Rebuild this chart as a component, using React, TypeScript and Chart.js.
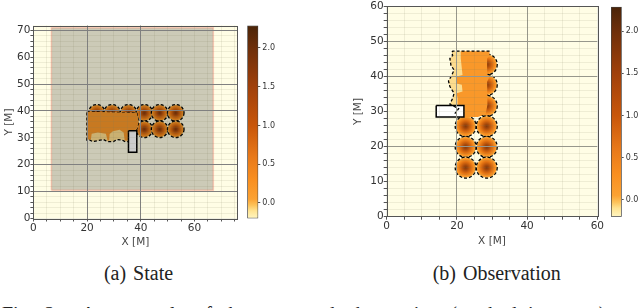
import React, { useEffect, useRef } from "react";
import { Chart, registerables } from "chart.js";

Chart.register(...registerables);

// ---------- data ----------
const stateCircleX = [23.6, 29.3, 35.4, 41.3, 47, 53, 41.3, 47, 53];
const stateCircleY = [39.3, 39.3, 39.3, 39.3, 39.3, 39.3, 33.2, 33.2, 33.2];
const stateTanX = [19.9, 38.5, 39.2, 38.5, 35.4, 34.2, 33, 31.1, 29.8, 27.6, 26.1, 24.2, 22.1, 20.9, 19.9, 19.9];
const stateTanY = [39.7, 39.3, 36, 33.2, 28.6, 28.6, 29.2, 29.4, 28.6, 28.6, 29.4, 29, 28.6, 29.2, 29.2, 39.7];
const stateOrangeX = [19.9, 38.5, 39.2, 38.5, 35.4, 35.4, 34, 33.6, 32.1, 29.6, 28.4, 28.2, 27.6, 27, 24, 21.7, 21.4, 19.9];
const stateOrangeY = [39.7, 39.3, 36, 33.2, 32.3, 29, 29, 32, 33, 32.5, 31.4, 29, 29, 31.5, 32, 31.5, 29.4, 29.5];
const stateVehicleX = [35.4, 38.5, 38.5, 35.4, 35.4];
const stateVehicleY = [32.6, 32.6, 24.6, 24.6, 32.6];
const stateWindowX = [6.7, 67, 67, 6.7, 6.7];
const stateWindowY = [10.5, 10.5, 71, 71, 10.5];
const stateMajorX = [20, 40];
const stateMajorY = [10, 20, 40, 50, 70];

const obsCircleX = [28.5, 28.5, 28.5, 22.5, 28.5, 22.5, 28.5, 22.5, 28.5];
const obsCircleY = [43.4, 37.6, 31.6, 25.8, 25.8, 19.9, 19.9, 14, 14];
const obsTanX = [18.8, 25, 25, 22.1, 18.8, 18, 18.8, 19.2, 18, 17.6, 18.3, 19.2, 18.3, 18, 18.8, 18.5];
const obsTanY = [47.2, 47.2, 28.4, 28.4, 31.7, 32.1, 33.8, 35.2, 37.1, 38.7, 39.9, 41.8, 43.2, 45.1, 46, 46.8];
const obsEdgeX = [29.3, 18.8, 18.5, 18.8, 18, 18.3, 19.2, 18.3, 17.6, 18, 19.2, 18.8, 18, 18.8, 20.5, 19.4];
const obsEdgeY = [47.2, 47.2, 46.8, 46, 45.1, 43.2, 41.8, 39.9, 38.7, 37.1, 35.2, 33.8, 32.1, 31.7, 30.8, 29.4];
const obsOrangeX = [21.1, 29.3, 29.3, 28.6, 28.6, 29.3, 28.6, 28.6, 28.8, 28.2, 26, 22.1, 22.1, 20.2, 20.2, 19.9, 21.6, 21.4, 19.9, 19.7, 21.6, 21.1];
const obsOrangeY = [47.2, 47.2, 45.8, 45.1, 40.4, 39.9, 38.5, 34.3, 31.9, 29.3, 28.4, 28.4, 31.5, 31.9, 33.8, 35.2, 35.7, 37.6, 38, 39.9, 40.4, 45.1];
const obsVehicleX = [14.1, 22, 22, 14.1, 14.1];
const obsVehicleY = [31.7, 31.7, 28.4, 28.4, 31.7];
const obsMajorX = [20, 40];
const obsMajorY = [20, 40, 50];

const colorbarValues = [-0.2, -0.1, -0.03, 0.05, 0.3, 0.6, 1.0, 1.5, 2.0, 2.29];
const colorbarColors = ["#fff6c2", "#ffe391", "#fdc35a", "#fba233", "#f98f20", "#e8791a", "#c8560a", "#a0400b", "#6e2f0b", "#4a2408"];
const circleStopOffsets = [0, 0.2, 0.5, 0.78, 0.9, 1];
const circleStopColors = ["#84390b", "#a2470c", "#d9690f", "#f98f20", "#fba233", "#fde3a0"];

const xAxisTitle = "X [M]";
const yAxisTitle = "Y [M]";
const captionA = "(a) State";
const captionB = "(b) Observation";
const footerText = "Fig. 2:  An example of the state and observation (marked in green) and";

// ---------- helpers ----------
const TICK_FONT = "'DejaVu Sans'";
const xy = (xs: number[], ys: number[]) => xs.map((x, i) => ({ x, y: ys[i] }));

const polygon = (xs: number[], ys: number[], fill: string | false, border = "transparent", width = 0, dash: number[] = []) => ({
  data: xy(xs, ys),
  showLine: true,
  pointRadius: 0,
  tension: 0,
  fill: fill ? "shape" : false,
  backgroundColor: fill || "transparent",
  borderColor: border,
  borderWidth: width,
  borderDash: dash,
});

const circles = (xs: number[], ys: number[], radius: number) => ({
  data: xy(xs, ys),
  showLine: false,
  dashedPoints: true,
  pointRadius: radius,
  pointBorderWidth: 1.3,
  pointBorderColor: "#000",
  pointBackgroundColor: (c: any) => {
    const { chart, raw } = c;
    if (!raw || !chart.scales.x) return "#fff";
    const px = chart.scales.x.getPixelForValue(raw.x);
    const py = chart.scales.y.getPixelForValue(raw.y);
    if (!Number.isFinite(px) || !Number.isFinite(py)) return "#fff";
    const g = chart.ctx.createRadialGradient(px, py, 0, px, py, radius);
    circleStopOffsets.forEach((o, i) => g.addColorStop(o, circleStopColors[i]));
    return g;
  },
});

const dashPlugin = {
  id: "dashPoints",
  beforeDatasetDraw(chart: any, args: any) {
    chart.ctx.save();
    if (chart.data.datasets[args.index].dashedPoints) chart.ctx.setLineDash([3, 2]);
  },
  afterDatasetDraw(chart: any) {
    chart.ctx.restore();
  },
};

const framePlugin = {
  id: "frame",
  afterDraw(chart: any) {
    const { left, top, width, height } = chart.chartArea;
    const { ctx } = chart;
    ctx.save();
    ctx.strokeStyle = "#555";
    ctx.lineWidth = 1;
    ctx.strokeRect(Math.round(left) + 0.5, Math.round(top) + 0.5, Math.round(width), Math.round(height));
    ctx.restore();
  },
};

const bgPlugin = {
  id: "plotBg",
  beforeDatasetsDraw(chart: any) {
    const { left, top, width, height } = chart.chartArea;
    chart.ctx.save();
    chart.ctx.fillStyle = "#fffde5";
    chart.ctx.fillRect(left, top, width, height);
    chart.ctx.restore();
  },
};

const gridColor = (majors: number[], strong: string) => (c: any) =>
  c.tick && majors.includes(c.tick.value) ? strong : "rgba(120,120,90,0.12)";

function panelConfig(datasets: any[], o: any) {
  return {
    type: "scatter",
    data: { datasets },
    plugins: [bgPlugin, dashPlugin, framePlugin],
    options: {
      animation: false,
      responsive: false,
      events: [],
      layout: { autoPadding: false, padding: { left: 0, top: o.top, right: o.right, bottom: 0 } },
      plugins: { legend: { display: false }, tooltip: { enabled: false } },
      scales: {
        x: {
          type: "linear",
          min: 0,
          max: o.xMax,
          afterFit: (s: any) => { s.height = o.xHeight; },
          title: { display: true, text: xAxisTitle, color: "#444", font: { family: TICK_FONT, size: 10.5 }, padding: 0 },
          grid: { z: 1, color: gridColor(o.majorX, o.gridStrong), lineWidth: 1, tickLength: 3, tickColor: "#555" },
          border: { display: false },
          ticks: {
            stepSize: 5, includeBounds: false, autoSkip: false, maxRotation: 0, padding: 0,
            color: "#333", font: { family: TICK_FONT, size: 10.5 },
            callback: (v: number) => (v % 20 === 0 ? String(v) : ""),
          },
        },
        y: {
          type: "linear",
          min: 0,
          max: o.yMax,
          afterFit: (s: any) => { s.width = o.yWidth; },
          title: { display: true, text: yAxisTitle, color: "#444", font: { family: TICK_FONT, size: 10.5 }, padding: 0 },
          grid: { z: 1, color: gridColor(o.majorY, o.gridStrong), lineWidth: 1, tickLength: 3, tickColor: "#555" },
          border: { display: false },
          ticks: {
            stepSize: 2, includeBounds: false, autoSkip: false, padding: 0,
            color: "#333", font: { family: TICK_FONT, size: 10.5 },
            callback: (v: number) => (v % 10 === 0 ? String(v) : ""),
          },
        },
      },
    },
  };
}

function colorbarConfig(o: any) {
  const lo = colorbarValues[0];
  const hi = colorbarValues[colorbarValues.length - 1];
  return {
    type: "bar",
    data: {
      labels: [""],
      datasets: [{
        data: [[lo, hi]],
        barPercentage: 1,
        categoryPercentage: 1,
        borderWidth: 1,
        borderColor: "#444",
        borderSkipped: false,
        backgroundColor: (c: any) => {
          const y = c.chart.scales.y;
          if (!y) return "#fff";
          const y0 = y.getPixelForValue(lo);
          const y1 = y.getPixelForValue(hi);
          if (!Number.isFinite(y0) || !Number.isFinite(y1)) return "#fff";
          const g = c.chart.ctx.createLinearGradient(0, y0, 0, y1);
          colorbarValues.forEach((v, i) => g.addColorStop((v - lo) / (hi - lo), colorbarColors[i]));
          return g;
        },
      }],
    },
    options: {
      animation: false,
      responsive: false,
      events: [],
      layout: { autoPadding: false, padding: { left: o.left, top: o.top, right: 0, bottom: o.bottom } },
      plugins: { legend: { display: false }, tooltip: { enabled: false } },
      scales: {
        x: { display: false },
        y: {
          position: "right",
          min: lo,
          max: hi,
          afterFit: (s: any) => { s.width = o.axisWidth; },
          grid: { drawOnChartArea: false, tickLength: 2, tickColor: "#555" },
          border: { display: false },
          ticks: {
            stepSize: 0.5, includeBounds: false, padding: 2, color: "#333",
            font: { family: TICK_FONT, size: 8 },
            callback: (v: number) => v.toFixed(1),
          },
        },
      },
    },
  };
}

const OVERLAY = "rgba(0,0,0,0.2)";
const ORANGE = "#f9982a";
const TAN = "#fddc8e";

const stateDatasets = [
  polygon(stateWindowX, stateWindowY, OVERLAY, "rgba(255,110,90,0.3)", 1.5),
  polygon(stateVehicleX, stateVehicleY, "#ffffff", "#000", 1.5),
  polygon(stateOrangeX, stateOrangeY, ORANGE),
  polygon(stateTanX, stateTanY, TAN, "#000", 1.3, [3, 2]),
  circles(stateCircleX, stateCircleY, 8.3),
];

const obsDatasets = [
  polygon(obsEdgeX, obsEdgeY, false, "#000", 1.3, [3, 2]),
  polygon(obsVehicleX, obsVehicleY, "#ffffff", "#000", 1.5),
  polygon(obsOrangeX, obsOrangeY, ORANGE),
  polygon(obsTanX, obsTanY, TAN),
  circles(obsCircleX, obsCircleY, 10.5),
];

function ChartCanvas({ left, top, width, height, config }: any) {
  const ref = useRef<HTMLCanvasElement>(null);
  useEffect(() => {
    const chart = new Chart(ref.current as any, config());
    return () => chart.destroy();
  }, []);
  return (
    <canvas
      ref={ref}
      width={width}
      height={height}
      style={{ position: "absolute", left, top, width, height, filter: "blur(0.35px)" }}
    />
  );
}

const caption = (text: string, center: number) => (
  <div style={{
    position: "absolute", left: center - 120, width: 240, top: 261, textAlign: "center",
    fontFamily: "'Liberation Serif'", fontSize: 20, lineHeight: "24px", color: "#222", wordSpacing: 2,
  }}>{text}</div>
);

export default function App() {
  return (
    <div style={{ position: "absolute", left: 0, top: 0, width: 640, height: 308, overflow: "hidden", background: "#fff" }}>
      <ChartCanvas left={3} top={0} width={240} height={249}
        config={() => panelConfig(stateDatasets, { top: 25.5, right: 5.5, xMax: 76, yMax: 71.8, xHeight: 30.5, yWidth: 30.4, majorX: stateMajorX, majorY: stateMajorY, gridStrong: "#808080" })} />
      <ChartCanvas left={240} top={0} width={40} height={240}
        config={() => colorbarConfig({ left: 7.3, top: 25.5, bottom: 21.5, axisWidth: 21.7 })} />
      <ChartCanvas left={352} top={0} width={252} height={248}
        config={() => panelConfig(obsDatasets, { top: 3.3, right: 4.7, xMax: 60, yMax: 60, xHeight: 31.3, yWidth: 34.7, majorX: obsMajorX, majorY: obsMajorY, gridStrong: "#97978c" })} />
      <ChartCanvas left={604} top={0} width={36} height={240}
        config={() => colorbarConfig({ left: 7, top: 3.3, bottom: 23.3, axisWidth: 18.3 })} />
      {caption(captionA, 138.5)}
      {caption(captionB, 496.7)}
      <div style={{
        position: "absolute", left: 2, top: 302, width: 640, whiteSpace: "pre",
        fontFamily: "'Liberation Serif'", fontSize: 20, lineHeight: "24px", color: "#222", wordSpacing: 6,
      }}>{footerText}</div>
    </div>
  );
}
